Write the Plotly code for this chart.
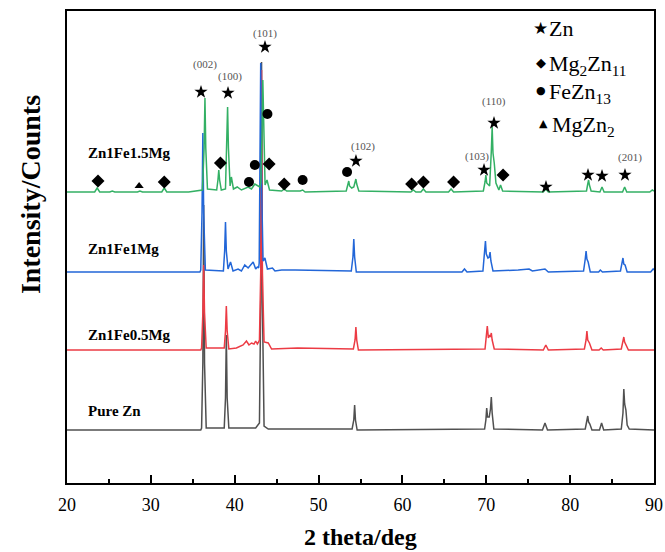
import plotly.graph_objects as go

# ---------------- data (arbitrary intensity units, stacked) -------------
two_theta_pure = [
    20.0, 35.95,
    36.05, 36.2, 36.3, 36.4, 36.6,
    38.75, 38.9, 39.0, 39.1, 39.3,
    42.5, 42.95, 43.1, 43.2, 43.3, 43.5,
    44.0,
    54.0, 54.2, 54.3, 54.4, 54.6,
    69.8, 69.95, 70.05, 70.15, 70.35, 70.5, 70.6, 70.7, 70.9,
    76.7, 77.0, 77.3,
    81.8, 82.0, 82.1, 82.2, 82.35, 82.6,
    83.5, 83.75, 84.0,
    86.1, 86.3, 86.4, 86.5, 86.65, 86.8, 87.05,
    90.0]
intensity_pure = [
    53, 53,
    55, 120, 278, 120, 55,
    55, 85, 148, 85, 55,
    55, 60, 180, 421, 180, 57,
    54,
    54, 63, 78, 63, 53,
    54, 63, 75, 66, 66, 74, 86, 70, 54,
    53, 60, 53,
    54, 61, 67, 61, 59, 53,
    53, 60, 53,
    54, 70, 94, 79, 73, 58, 54,
    53]

two_theta_05 = [
    20.0, 35.95,
    36.05, 36.2, 36.3, 36.4, 36.6,
    38.75, 38.9, 39.0, 39.1, 39.3,
    40.2, 41.0, 41.4, 41.7, 42.0, 42.3, 42.5, 42.7, 42.85,
    42.95, 43.1, 43.2, 43.3, 43.5, 44.0, 44.4,
    47.5,
    54.15, 54.35, 54.45, 54.55, 54.75,
    69.85, 70.0, 70.12, 70.25, 70.4, 70.5, 70.6, 70.7, 70.95,
    76.8, 77.1, 77.4,
    81.7, 81.9, 82.0, 82.1, 82.3, 82.6,
    83.45, 83.7, 83.95,
    86.1, 86.3, 86.4, 86.5, 86.62, 86.95,
    90.0]
intensity_05 = [
    133, 133,
    135, 170, 218, 170, 135,
    135, 152, 177, 152, 134,
    135, 138, 142, 138, 140, 139, 142, 139, 141,
    143, 210, 413, 210, 141, 140, 134,
    135,
    134, 143, 156, 143, 133,
    134, 146, 157, 145, 148, 146, 150, 143, 134,
    133, 138, 133,
    134, 143, 152, 143, 140, 133,
    133, 135, 133,
    134, 141, 146, 141, 139, 133,
    133]

two_theta_1 = [
    20.0, 35.85,
    35.95, 36.1, 36.2, 36.3, 36.5,
    38.65, 38.8, 38.9, 39.0, 39.2, 39.5, 39.8,
    40.4, 40.8, 41.2, 41.6, 42.2, 42.5, 42.7, 42.85,
    42.92, 43.0, 43.1, 43.2, 43.38, 43.6, 43.9, 44.5, 44.8,
    45.6, 47.2,
    53.9, 54.1, 54.2, 54.3, 54.5,
    67.1, 67.4, 67.7,
    69.6, 69.8, 69.9, 70.0, 70.2, 70.35, 70.45, 70.55, 70.8,
    73.8, 75.1, 75.5, 77.0, 77.4,
    81.6, 81.8, 81.9, 82.0, 82.15, 82.4,
    83.4, 83.6, 83.85,
    86.0, 86.2, 86.3, 86.4, 86.55, 86.8,
    89.6, 89.9, 90.0]
intensity_1 = [
    211, 211,
    213, 270, 350, 270, 213,
    212, 232, 261, 232, 214, 221, 212,
    214, 212, 218, 215, 221, 214, 216, 215,
    220, 300, 420, 300, 222, 225, 214, 215, 212,
    213, 213,
    212, 226, 244, 226, 211,
    211, 214, 211,
    212, 229, 242, 229, 225, 226, 231, 222, 212,
    213, 214, 212, 214, 211,
    212, 224, 232, 224, 221, 211,
    211, 213, 211,
    212, 219, 225, 219, 218, 211,
    211, 214, 213]

two_theta_15 = [
    20.0, 23.3, 23.6, 23.9, 25.1, 25.4, 25.7, 28.4, 28.7, 29.0, 31.3, 31.6, 31.9, 34.5,
    36.15, 36.35, 36.45, 36.55, 36.75,
    37.85, 38.0, 38.1, 38.2, 38.4,
    38.9, 39.05, 39.15, 39.25, 39.45, 39.6, 39.85,
    40.3, 40.8, 41.6, 42.0, 42.4, 42.8, 43.0,
    43.1, 43.25, 43.35, 43.45, 43.62, 43.85, 44.15,
    45.6, 45.9, 46.2, 47.8, 48.1, 48.4,
    53.3, 53.5, 53.6, 53.7, 53.95, 54.2, 54.35, 54.45, 54.55, 54.8,
    61.0, 61.3, 61.6, 62.2, 62.5, 62.8, 65.5, 65.8, 66.1,
    69.65, 69.85, 69.95, 70.05, 70.4, 70.6, 70.7, 70.8, 70.95, 71.15, 71.5, 71.7, 71.95,
    76.8, 77.1, 77.4,
    81.95, 82.1, 82.2, 82.3, 82.5,
    83.55, 83.8, 84.05,
    86.25, 86.5, 86.75,
    89.5, 89.8, 90.0]
intensity_15 = [
    291, 291, 295, 291, 291, 292, 291, 291, 292, 291, 291, 295, 291, 291,
    293, 335, 385, 335, 294,
    293, 303, 313, 303, 293,
    294, 335, 376, 335, 297, 306, 294,
    296, 293, 296, 294, 299, 297, 296,
    300, 345, 403, 345, 298, 303, 293,
    292, 294, 292, 292, 293, 291,
    292, 298, 302, 297, 295, 296, 300, 304, 299, 292,
    291, 293, 291, 291, 294, 291, 291, 294, 291,
    292, 301, 308, 300, 297, 332, 356, 330, 320, 300, 293, 298, 292,
    291, 294, 291,
    292, 299, 303, 298, 292,
    291, 296, 291,
    291, 296, 291,
    291, 293, 292]

series_names = ["Pure Zn", "Zn1Fe0.5Mg", "Zn1Fe1Mg", "Zn1Fe1.5Mg"]
series_colors = ["#505050", "#ec3b44", "#2266d8", "#33b064"]
series_x = [two_theta_pure, two_theta_05, two_theta_1, two_theta_15]
series_y = [intensity_pure, intensity_05, intensity_1, intensity_15]
label_y = [72, 148, 234, 330]

# phase markers
zn_x = [35.98, 39.2, 43.61, 54.46, 69.73, 70.92, 77.12, 82.13, 83.8, 86.54]
zn_y = [391, 390, 436, 322, 313, 360, 296, 308, 307, 308]
mg2zn11_x = [23.7, 31.6, 38.3, 44.1, 45.9, 61.1, 62.5, 66.1, 72.0]
mg2zn11_y = [302, 301, 320, 319, 299, 299, 301, 301, 308]
fezn13_x = [41.7, 42.4, 43.9, 48.1, 53.4]
fezn13_y = [301, 318, 369, 303, 311]
mgzn2_x = [28.6]
mgzn2_y = [297]

hkl_text = ["(002)", "(100)", "(101)", "(102)", "(103)", "(110)", "(201)"]
hkl_x = [36.46, 39.38, 43.6, 55.33, 68.86, 70.92, 87.13]
hkl_y = [419, 407, 450, 337, 327, 382, 326]

legend_symbols = ["★", "◆", "●", "▲"]
legend_symbol_x = [76.5, 76.5, 76.5, 76.85]
legend_symbol_y = [455, 421, 393, 360]
legend_symbol_size = [17, 13, 11, 11]
legend_text = ["Zn", "Mg<sub>2</sub>Zn<sub>11</sub>", "FeZn<sub>13</sub>", "MgZn<sub>2</sub>"]
legend_text_x = [77.2, 77.2, 77.2, 77.65]
legend_text_y = [455, 418, 390, 357]

SERIF = "Liberation Serif, Times New Roman, serif"

fig = go.Figure()
for xs, ys, c in zip(series_x, series_y, series_colors):
    fig.add_trace(go.Scatter(x=xs, y=ys, mode="lines",
                             line=dict(color=c, width=1.5), showlegend=False,
                             hoverinfo="skip"))

for xs, ys, sym, sz in [(zn_x, zn_y, "star", 10), (mg2zn11_x, mg2zn11_y, "diamond", 10),
                        (fezn13_x, fezn13_y, "circle", 10), (mgzn2_x, mgzn2_y, "triangle-up", 8)]:
    fig.add_trace(go.Scatter(x=xs, y=ys, mode="markers",
                             marker=dict(symbol=sym, size=sz, color="black",
                                         line=dict(width=0)),
                             showlegend=False, hoverinfo="skip"))

for t, x, y in zip(hkl_text, hkl_x, hkl_y):
    fig.add_annotation(x=x, y=y, text=t, showarrow=False,
                       font=dict(family=SERIF, size=11, color="#555555"))

for name, y in zip(series_names, label_y):
    fig.add_annotation(x=22.3, y=y, text="<b>" + name + "</b>", showarrow=False,
                       xanchor="left", font=dict(family=SERIF, size=15, color="black"))

for s, x, y, sz in zip(legend_symbols, legend_symbol_x, legend_symbol_y, legend_symbol_size):
    fig.add_annotation(x=x, y=y, text=s, showarrow=False,
                       font=dict(family="DejaVu Sans", size=sz, color="black"))
for t, x, y in zip(legend_text, legend_text_x, legend_text_y):
    fig.add_annotation(x=x, y=y, text=t, showarrow=False, xanchor="left",
                       font=dict(family=SERIF, size=22, color="black"))

# axis titles placed as in the reference
fig.add_annotation(xref="paper", yref="paper", x=-0.063, y=0.61,
                   xanchor="center", yanchor="middle",
                   text="<b>Intensity/Counts</b>", textangle=-90, showarrow=False,
                   font=dict(family=SERIF, size=28, color="black"))
fig.add_annotation(xref="paper", yref="paper", x=0.5, y=-0.114,
                   xanchor="center", yanchor="middle",
                   text="<b>2 theta/deg</b>", showarrow=False,
                   font=dict(family=SERIF, size=24, color="black"))

fig.update_layout(
    width=665, height=552,
    margin=dict(l=67, r=11, t=11, b=69, autoexpand=False),
    paper_bgcolor="white", plot_bgcolor="white",
    xaxis=dict(range=[20, 90], dtick=10, tick0=20, ticks="inside", ticklen=8,
               tickwidth=1.5, tickcolor="black", ticklabelstandoff=4,
               automargin=False,
               minor=dict(dtick=5, ticks="inside", ticklen=4, tickwidth=1.5,
                          tickcolor="black"),
               showline=True, linecolor="black", linewidth=1.8, mirror=True,
               showgrid=False, zeroline=False,
               tickfont=dict(family=SERIF, size=18, color="black")),
    yaxis=dict(range=[0, 472], showticklabels=False, ticks="", automargin=False,
               showline=True, linecolor="black", linewidth=1.8, mirror=True,
               showgrid=False, zeroline=False),
)

fig.write_html("out.html")
